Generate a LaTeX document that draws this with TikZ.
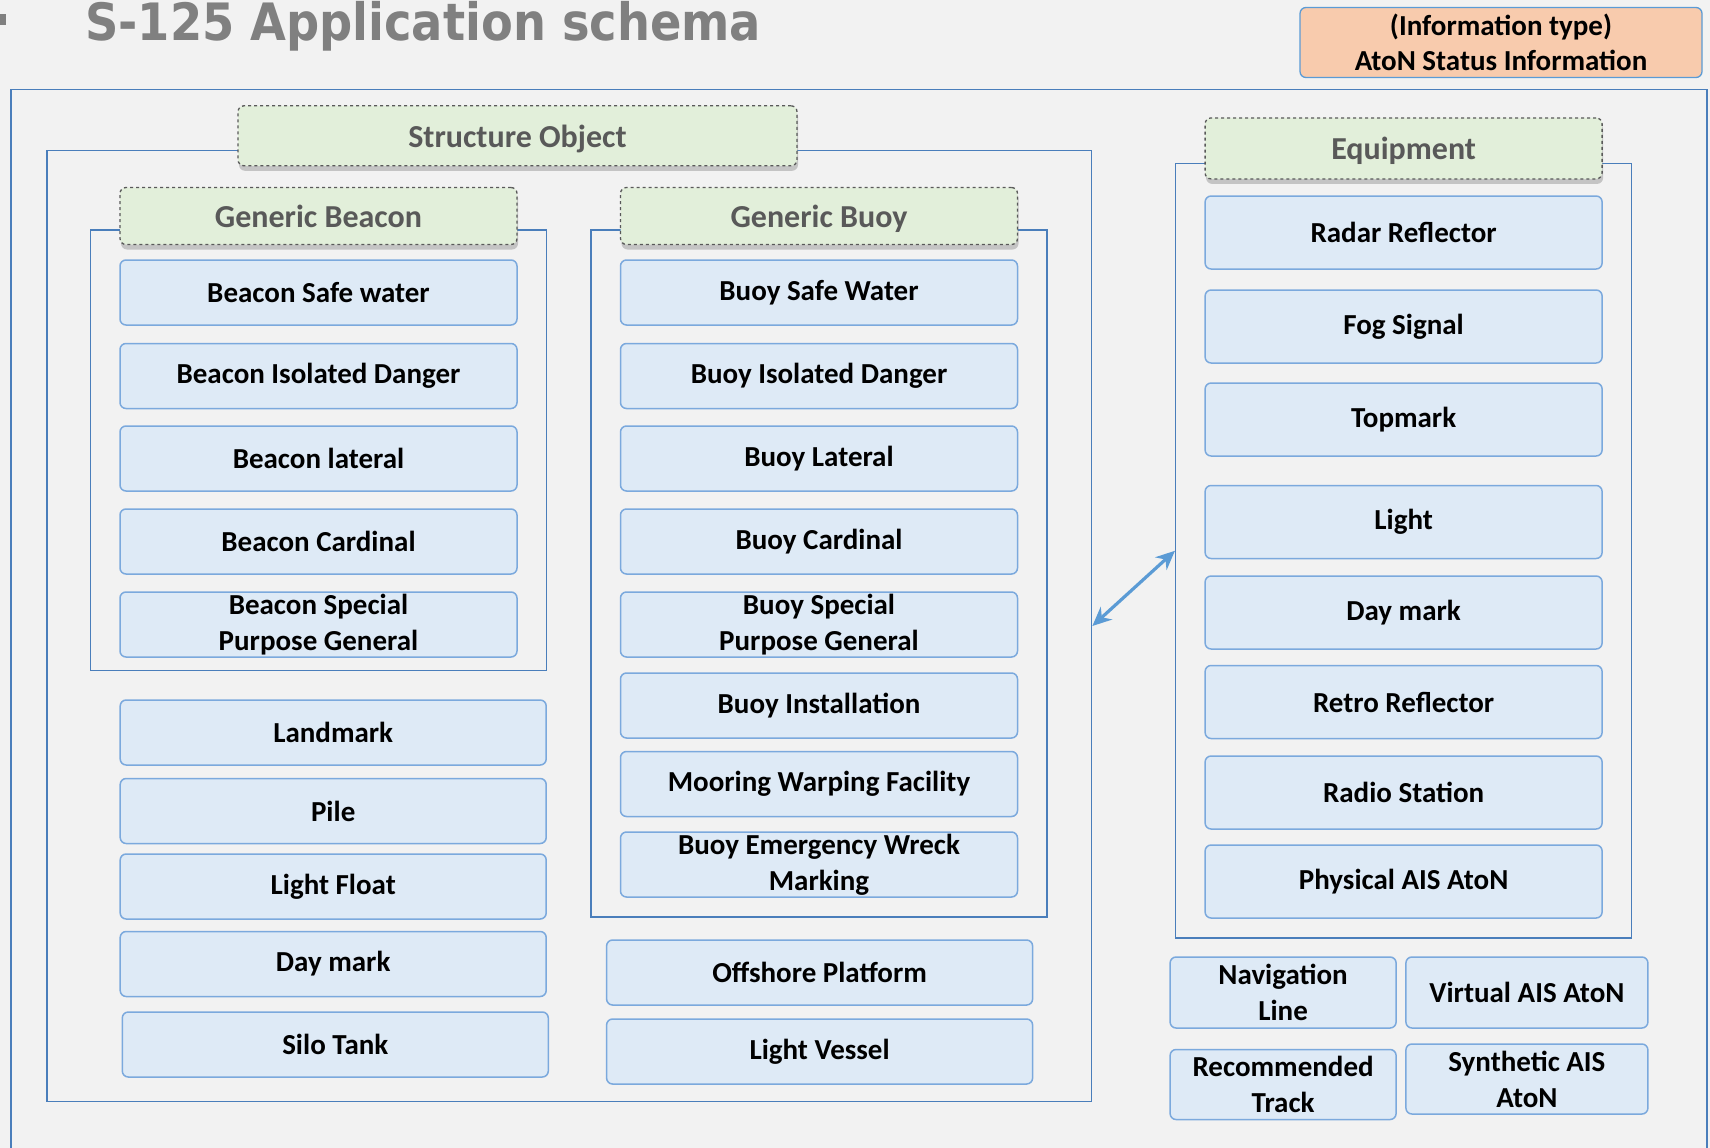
\documentclass[tikz,border=0pt]{standalone}
\usepackage{fontspec}
\setmainfont{Carlito}
\newfontfamily\titlefont{DejaVu Sans Condensed}
\usetikzlibrary{shadows,arrows.meta}
\definecolor{bgcol}{HTML}{F2F2F2}
\definecolor{framecol}{HTML}{4A7EBB}
\definecolor{itemfill}{HTML}{DEEAF6}
\definecolor{itemline}{HTML}{7BA9DD}
\definecolor{headfill}{HTML}{E2EFDA}
\definecolor{headline}{HTML}{595959}
\definecolor{infofill}{HTML}{F8CBAD}
\definecolor{linkcol}{HTML}{5B9BD5}
\begin{document}
\begin{tikzpicture}[x=1pt, y=-1pt,
    group/.style={draw=framecol, line width=1.3pt, inner sep=0pt},
    item/.style={draw=itemline, fill=itemfill, line width=1.5pt, rounded corners=6pt,
        minimum width=397pt, minimum height=65pt, inner sep=0pt, align=center,
        font=\fontsize{29}{36}\selectfont\bfseries},
    wideitem/.style={item, minimum width=426pt},
    equipitem/.style={item, minimum height=73pt},
    header/.style={draw=headline, dashed, line width=1.3pt, fill=headfill, rounded corners=6pt,
        minimum width=397pt, minimum height=57pt, inner sep=0pt, text=headline, text depth=0pt,
        font=\fontsize{32}{38}\selectfont\bfseries,
        drop shadow={opacity=0.4, shadow xshift=1pt, shadow yshift=-5pt}},
    link/.style={draw=linkcol, line width=3.2pt, {Stealth[length=19pt,width=17pt]}-{Stealth[length=19pt,width=17pt]}}]
        \useasboundingbox (0,0) rectangle (1710,1148);
        \fill[bgcol] (0,0) rectangle (1710,1148);
        
        % Title and information type
        \fill[gray] (0,14) rectangle (6,25);
        \node at (85,41) (title) [anchor=base west, inner sep=0pt, text=gray,
            font=\titlefont\bfseries\fontsize{51.5}{60}\selectfont] {S-125 Application schema};
        \node at (1501,42.5) (info) [draw=linkcol, line width=1.3pt, fill=infofill, rounded corners=6pt,
            minimum width=402pt, minimum height=70pt, inner sep=0pt, align=center,
            font=\fontsize{29}{35}\selectfont\bfseries] {(Information type)\\AtoN Status Information};
        \draw[framecol, line width=1.3pt] (11,1160) -- (11,89.5) -- (1707,89.5) -- (1707,1160);
        
        % Define group frames
        \node at (569.3,626) (structbox) [group, minimum width=1044.8pt, minimum height=951pt] {};
        \node at (318.5,450.4) (beaconbox) [group, minimum width=456pt, minimum height=440.6pt] {};
        \node at (819,573.6) (buoybox) [group, minimum width=456pt, minimum height=687pt] {};
        \node at (1403.6,550.8) (equipbox) [group, minimum width=456pt, minimum height=774.3pt] {};
        
        % Define header nodes
        \node at (517.5,135.8) (structhead) [header, minimum width=559pt, minimum height=60pt] {Structure Object};
        \node at (318.5,216) (beaconhead) [header] {Generic Beacon};
        \node at (819,216) (buoyhead) [header] {Generic Buoy};
        \node at (1403.6,148.4) (equiphead) [header, minimum height=61pt] {Equipment};
        
        % Define nodes for beacons
        \node at (318.5,292.5) (bsafe) [item] {Beacon Safe water};
        \node at (318.5,376) (bisol) [item] {Beacon Isolated Danger};
        \node at (318.5,458.5) (blat) [item] {Beacon lateral};
        \node at (318.5,541.5) (bcard) [item] {Beacon Cardinal};
        \node at (318.5,624.5) (bspec) [item] {Beacon Special\\Purpose General};
        
        \node at (333.2,732.5) (landmark) [wideitem] {Landmark};
        \node at (333.2,811) (pile) [wideitem] {Pile};
        \node at (333.2,886.5) (lfloat) [wideitem] {Light Float};
        \node at (333.2,964) (sdaymark) [wideitem] {Day mark};
        \node at (335.3,1044.5) (silo) [wideitem] {Silo Tank};
        
        % Define nodes for buoys
        \node at (819,292.5) (usafe) [item] {Buoy Safe Water};
        \node at (819,376) (uisol) [item] {Buoy Isolated Danger};
        \node at (819,458.5) (ulat) [item] {Buoy Lateral};
        \node at (819,541.5) (ucard) [item] {Buoy Cardinal};
        \node at (819,624.5) (uspec) [item] {Buoy Special\\Purpose General};
        \node at (819,705.5) (uinst) [item] {Buoy Installation};
        \node at (819,784) (mooring) [item] {Mooring Warping Facility};
        \node at (819,864.5) (wreck) [item] {Buoy Emergency Wreck\\Marking};
        
        \node at (819.6,972.5) (offshore) [wideitem] {Offshore Platform};
        \node at (819.6,1051.5) (lvessel) [wideitem] {Light Vessel};
        
        % Define nodes for equipment
        \node at (1403.6,232.5) (radar) [equipitem] {Radar Reflector};
        \node at (1403.6,326.5) (fog) [equipitem] {Fog Signal};
        \node at (1403.6,419.5) (topmark) [equipitem] {Topmark};
        \node at (1403.6,522) (light) [equipitem] {Light};
        \node at (1403.6,612.5) (edaymark) [equipitem] {Day mark};
        \node at (1403.6,702) (retro) [equipitem] {Retro Reflector};
        \node at (1403.6,792.5) (radio) [equipitem] {Radio Station};
        \node at (1403.6,881.5) (physais) [equipitem] {Physical AIS AtoN};
        
        \node at (1283.1,992.5) (navline) [item, minimum width=226pt, minimum height=71pt] {Navigation\\Line};
        \node at (1526.9,992.5) (virtais) [item, minimum width=242pt, minimum height=71pt] {Virtual AIS AtoN};
        \node at (1283.1,1084.5) (rectrack) [item, minimum width=226pt, minimum height=70pt] {Recommended\\Track};
        \node at (1526.9,1079) (synthais) [item, minimum width=242pt, minimum height=70pt] {Synthetic AIS\\AtoN};
        
        % Draw edges
        \draw[link] (structbox.east) -- (equipbox.west);
    \end{tikzpicture}
\end{document}
